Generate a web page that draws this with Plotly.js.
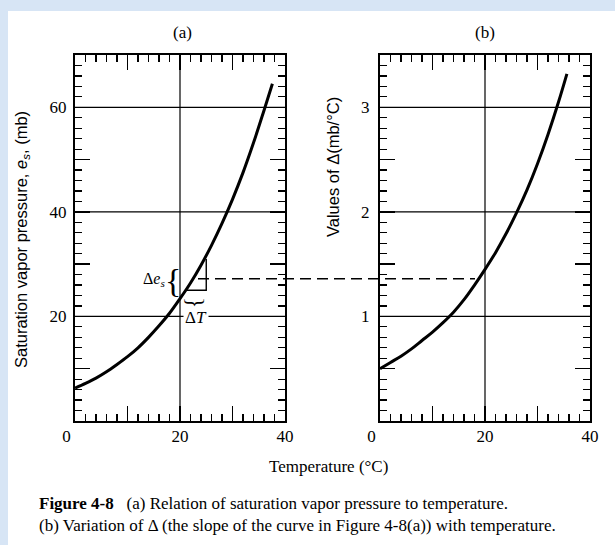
<!DOCTYPE html>
<html>
<head>
<meta charset="utf-8">
<script src="https://cdn.plot.ly/plotly-3.0.1.min.js"></script>
<style>html,body{margin:0;padding:0;background:#d7e5f5;}#chart{width:615px;height:545px;}</style>
</head>
<body>
<div id="chart"></div>
<script>
// ---- data ----
const tempA = [0, 2, 4, 6, 8, 10, 12, 14, 16, 18, 20, 22, 24, 26, 28, 30, 32, 34, 36, 37.6];
const esA = [6.3, 7.2, 8.2, 9.4, 10.8, 12.3, 14.0, 16.0, 18.2, 20.6, 23.4, 26.4, 29.8, 33.6, 37.8, 42.4, 47.5, 53.2, 59.4, 64.5];

const tempB = [0, 2, 4, 6, 8, 10, 12, 14, 16, 18, 20, 22, 24, 26, 28, 30, 32, 34, 35.6];
const deltaB = [0.50, 0.56, 0.62, 0.69, 0.77, 0.85, 0.94, 1.04, 1.16, 1.30, 1.45, 1.61, 1.79, 1.99, 2.21, 2.46, 2.74, 3.05, 3.32];

// slope triangle on curve (a)
const triT = [21, 25, 25];
const triE = [25, 25, 31];
// dashed link: value of e_s at which it leaves (a)
const linkE = 27.2;

// ticks
const xTickVals = [0, 10, 20, 30, 40];
const xTickText = ['0\u00a0\u00a0\u00a0\u00a0', '', '20', '', '40'];
const yaTickVals = [10, 20, 30, 40, 50, 60];
const yaTickText = ['', '20', '', '40', '', '60'];
const ybTickVals = [0.5, 1, 1.5, 2, 2.5, 3];
const ybTickText = ['', '1', '', '2', '', '3'];
const xGrid = [20];
const yaGrid = [20, 40, 60];
const ybGrid = [1, 2, 3];

// ---- layout helpers ----
const W = 615, H = 545;
const px = v => v / W;
const py = v => 1 - v / H;
const serif = 'Liberation Serif, Times New Roman, serif';
const sans = 'Liberation Sans, Arial, sans-serif';

function axis(domain, range, tv, tt, minorD, anchor) {
  return {
    domain: domain, range: range, anchor: anchor,
    tickmode: 'array', tickvals: tv, ticktext: tt,
    ticks: 'inside', ticklen: 15, tickwidth: 1.5, tickcolor: '#000',
    showline: true, linewidth: 2, linecolor: '#000', mirror: 'ticks',
    showgrid: false, zeroline: false,
    minor: {dtick: minorD, tick0: 0, ticks: 'inside', ticklen: 7, tickwidth: 1.2, tickcolor: '#000', showgrid: false},
    tickfont: {family: serif, size: 17, color: '#000'},
    fixedrange: true
  };
}

const yDom = [py(421), py(55)];
const layout = {
  width: W, height: H,
  margin: {l: 0, r: 0, t: 0, b: 0},
  paper_bgcolor: '#d7e5f5',
  plot_bgcolor: '#ffffff',
  showlegend: false,
  xaxis: axis([px(75), px(285)], [0, 40], xTickVals, xTickText, 2, 'y'),
  yaxis: axis(yDom, [0, 70], yaTickVals, yaTickText, 2, 'x'),
  xaxis2: axis([px(380), px(590)], [0, 40], xTickVals, xTickText, 2, 'y2'),
  yaxis2: axis(yDom, [0, 3.5], ybTickVals, ybTickText, 0.1, 'x2'),
  shapes: [],
  annotations: []
};
layout.xaxis.ticklabelstandoff = -1;
layout.xaxis2.ticklabelstandoff = -1;
layout.yaxis.ticklabelstandoff = 3;
layout.yaxis2.ticklabelstandoff = 5;

// white page
layout.shapes.push({type: 'rect', xref: 'paper', yref: 'paper', x0: px(8), x1: 1.01, y0: -0.01, y1: py(11),
  fillcolor: '#ffffff', line: {width: 0}, layer: 'below'});

// grid lines
xGrid.forEach(v => {
  layout.shapes.push({type: 'line', xref: 'x', yref: 'y domain', x0: v, x1: v, y0: 0, y1: 1, line: {color: '#000', width: 1.2}, layer: 'below'});
  layout.shapes.push({type: 'line', xref: 'x2', yref: 'y2 domain', x0: v, x1: v, y0: 0, y1: 1, line: {color: '#000', width: 1.2}, layer: 'below'});
});
yaGrid.forEach(v => layout.shapes.push({type: 'line', xref: 'x domain', yref: 'y', x0: 0, x1: 1, y0: v, y1: v, line: {color: '#000', width: 1.2}, layer: 'below'}));
ybGrid.forEach(v => layout.shapes.push({type: 'line', xref: 'x2 domain', yref: 'y2', x0: 0, x1: 1, y0: v, y1: v, line: {color: '#000', width: 1.2}, layer: 'below'}));

// dashed link between panels
layout.shapes.push({type: 'line', xref: 'paper', yref: 'y', x0: px(198), x1: px(475), y0: linkE, y1: linkE,
  line: {color: '#000', width: 1.6, dash: '11px,6px'}});

const A = (o) => Object.assign({showarrow: false, xanchor: 'center', yanchor: 'middle', borderpad: 0,
  font: {family: serif, size: 17, color: '#000'}}, o);
layout.annotations.push(
  A({xref: 'paper', yref: 'paper', x: px(182), y: py(33), text: '(a)'}),
  A({xref: 'paper', yref: 'paper', x: px(485), y: py(33), text: '(b)'}),
  A({xref: 'paper', yref: 'paper', x: px(22), y: py(240), textangle: -90,
     text: 'Saturation vapor pressure, <i>e<sub>s</sub></i>, (mb)', font: {family: sans, size: 16.5, color: '#000'}}),
  A({xref: 'paper', yref: 'paper', x: px(333), y: py(167), textangle: -90,
     text: 'Values of \u0394(mb/\u00b0C)', font: {family: sans, size: 16.5, color: '#000'}}),
  A({xref: 'paper', yref: 'paper', x: px(328), y: py(466), text: 'Temperature (\u00b0C)', font: {family: serif, size: 17, color: '#000'}}),
  A({xref: 'paper', yref: 'paper', x: px(38), y: py(503), xanchor: 'left',
     text: '<b>Figure 4-8</b>\u00a0\u00a0\u00a0(a) Relation of saturation vapor pressure to temperature.', font: {family: serif, size: 17, color: '#000'}}),
  A({xref: 'paper', yref: 'paper', x: px(38), y: py(525), xanchor: 'left',
     text: '(b) Variation of \u0394 (the slope of the curve in Figure 4-8(a)) with temperature.', font: {family: serif, size: 17, color: '#000'}}),
  // slope annotation
  A({xref: 'x', yref: 'y', x: 15.0, y: 27.0, text: '\u0394<i>e<sub>s</sub></i>', font: {family: serif, size: 16, color: '#000'}}),
  A({xref: 'x', yref: 'y', x: 18.7, y: 26.9, text: '{', font: {family: serif, size: 34, color: '#000'}}),
  A({xref: 'x', yref: 'y', x: 23.0, y: 22.6, text: '}', textangle: 90, font: {family: serif, size: 24, color: '#000'}}),
  A({xref: 'x', yref: 'y', x: 23.1, y: 19.8, text: '\u0394<i>T</i>', bgcolor: '#ffffff', borderpad: 1, font: {family: serif, size: 17, color: '#000'}})
);

const traces = [
  {x: tempA, y: esA, xaxis: 'x', yaxis: 'y', mode: 'lines', line: {color: '#000', width: 3, shape: 'spline'}, hoverinfo: 'skip'},
  {x: triT, y: triE, xaxis: 'x', yaxis: 'y', mode: 'lines', line: {color: '#000', width: 1.4}, hoverinfo: 'skip'},
  {x: tempB, y: deltaB, xaxis: 'x2', yaxis: 'y2', mode: 'lines', line: {color: '#000', width: 3, shape: 'spline'}, hoverinfo: 'skip'}
];

Plotly.newPlot('chart', traces, layout, {displayModeBar: false, staticPlot: true});
</script>
</body>
</html>
